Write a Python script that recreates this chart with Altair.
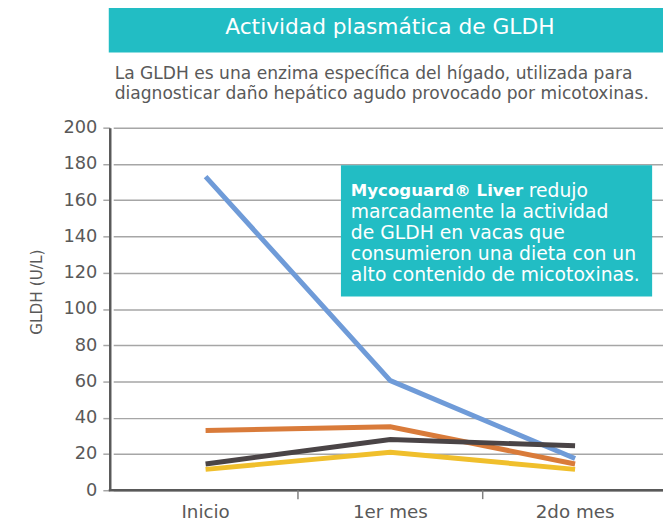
import altair as alt
import pandas as pd

# ---- data ----
categories = ["Inicio", "1er mes", "2do mes"]
series_names = ["Serie A", "Serie B", "Serie C", "Serie D"]
serie_a = [173, 60.5, 17.5]   # blue
serie_b = [33, 35, 14.5]      # orange
serie_c = [14.5, 28, 24.5]    # dark
serie_d = [11.5, 21, 11.5]    # yellow
colors = ["#d97b3a", "#4a4446", "#f0bf2c", "#6f9bd8"]

title_text = "Actividad plasmática de GLDH"
subtitle_lines = [
    "La GLDH es una enzima específica del hígado, utilizada para",
    "diagnosticar daño hepático agudo provocado por micotoxinas.",
]
box_bold = "Mycoguard® Liver"
box_first_rest = "redujo"
box_lines = [
    "marcadamente la actividad",
    "de GLDH en vacas que",
    "consumieron una dieta con un",
    "alto contenido de micotoxinas.",
]
y_title = "GLDH (U/L)"

rows = []
for name, vals in zip(series_names, [serie_a, serie_b, serie_c, serie_d]):
    for c, v in zip(categories, vals):
        rows.append({"serie": name, "cat": c, "val": v})
df = pd.DataFrame(rows)

FONT = "DejaVu Sans"
TEAL = "#22bdc4"
GRAY = "#595959"
W, H = 560, 367

xscale = alt.Scale(domain=categories, paddingInner=0, paddingOuter=0,
                   range=[3.5, 564.5])
order_dom = ["Serie B", "Serie C", "Serie D", "Serie A"]

lines = alt.Chart(df).mark_line(strokeWidth=5).encode(
    x=alt.X("cat:N", scale=xscale, sort=categories,
            axis=alt.Axis(title=None, labelAngle=0, ticks=False, tickSize=0,
                          labelPadding=28, labelBaseline="alphabetic",
                          labelFontSize=18.5, labelColor=GRAY,
                          labelFont=FONT, domain=False, grid=False)),
    y=alt.Y("val:Q", scale=alt.Scale(domain=[0, 200], nice=False),
            axis=alt.Axis(title=y_title, values=list(range(0, 201, 20)),
                          grid=True, gridColor="#a6a6a6", gridWidth=1.5,
                          tickColor="#a6a6a6", tickSize=7, tickWidth=1.5,
                          labelPadding=6, labelFontSize=18, labelColor=GRAY,
                          labelFont=FONT, domainColor=GRAY, domainWidth=2.5,
                          titleFont=FONT, titleFontSize=15.5, titleColor=GRAY,
                          titleFontWeight="normal", titleAngle=-90,
                          titleX=-74, titleY=166, titleAlign="center",
                          titleBaseline="middle")),
    color=alt.Color("serie:N", scale=alt.Scale(domain=order_dom, range=colors),
                    legend=None),
    detail="serie:N",
)

# x axis line
xline = alt.Chart(pd.DataFrame({"a": [0]})).mark_rule(color=GRAY, strokeWidth=2.5).encode(
    x=alt.value(-1), x2=alt.value(W), y=alt.value(H))

# tick marks between categories
tick_df = pd.DataFrame({"cat": categories[1:]})
ticks = alt.Chart(tick_df).mark_rule(color="#808080", strokeWidth=1.5).encode(
    x=alt.X("cat:N", scale=xscale, bandPosition=0, sort=categories),
    y=alt.value(H),
    y2=alt.value(H + 9),
)

one = pd.DataFrame({"a": [0]})

banner = alt.Chart(one).mark_rect(color=TEAL).encode(
    x=alt.value(-1), x2=alt.value(W), y=alt.value(-130), y2=alt.value(-76))
banner_text = alt.Chart(one).mark_text(
    text=title_text, font=FONT, fontSize=22, color="white",
    align="center", baseline="alphabetic").encode(
    x=alt.value(283.5), y=alt.value(-95.3))

sub_df = pd.DataFrame({"t": subtitle_lines, "i": [0, 1]})
sub_text = alt.Chart(sub_df).mark_text(
    font=FONT, fontSize=17.3, color=GRAY, align="left", baseline="alphabetic").encode(
    text="t:N",
    x=alt.value(5),
    y=alt.Y("i:Q", scale=alt.Scale(domain=[0, 1], range=[-49.3, -29.5]), axis=None),
)

box = alt.Chart(one).mark_rect(color=TEAL).encode(
    x=alt.value(234), x2=alt.value(549), y=alt.value(38), y2=alt.value(171))
box_b = alt.Chart(one).mark_text(
    text=box_bold, font=FONT, fontSize=16.8, fontWeight="bold", color="white",
    align="left", baseline="middle").encode(x=alt.value(244), y=alt.value(64))
box_r = alt.Chart(one).mark_text(
    text=box_first_rest, font=FONT, fontSize=19, color="white",
    align="left", baseline="middle").encode(x=alt.value(424), y=alt.value(64))
box_df = pd.DataFrame({"t": box_lines, "i": [0, 1, 2, 3]})
box_text = alt.Chart(box_df).mark_text(
    font=FONT, fontSize=19, color="white", align="left", baseline="middle").encode(
    text="t:N",
    x=alt.value(244),
    y=alt.Y("i:Q", scale=alt.Scale(domain=[0, 3], range=[85.7, 149]), axis=None),
)

chart = alt.layer(
    lines, xline, ticks, banner, banner_text, sub_text, box, box_b, box_r, box_text
).resolve_scale(y="independent").properties(
    width=W, height=H,
    autosize=alt.AutoSizeParams(type="none"),
    padding={"left": 103, "top": 118, "right": 0, "bottom": 29},
).configure_view(stroke=None).configure_axis(labelFont=FONT)

chart.save("out.html", embed_options={"renderer": "svg", "actions": False})
